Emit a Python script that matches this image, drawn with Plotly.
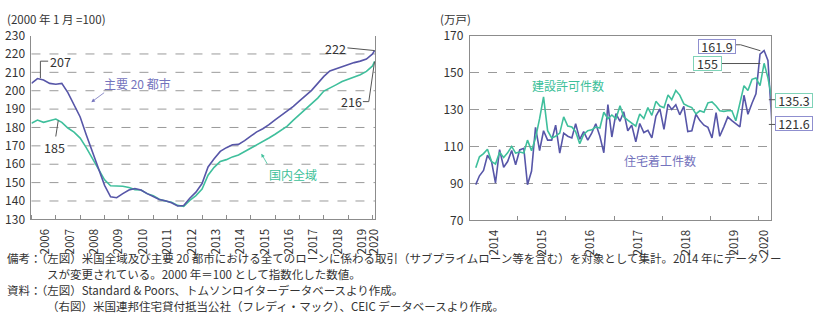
import pandas as pd
import plotly.graph_objects as go

# ---------------- data ----------------
# Case-Shiller style house price index (Jan 2000 = 100), quarterly readings + latest months
hpi_dates = list(pd.date_range("2006-01-01", "2019-10-01", freq="QS").strftime("%Y-%m-%d")) + [
    "2020-01-01", "2020-02-01"]
hpi_city20 = [
    204.0, 206.6, 205.8, 204.0,
    203.5, 204.0, 199.0, 192.0,
    185.7, 176.0, 166.5, 157.4,
    148.5, 142.3, 141.8, 144.0,
    146.0, 146.8, 146.0, 144.0,
    142.6, 140.8, 140.1, 139.0,
    137.3, 137.5, 141.5, 144.8,
    149.5, 158.5, 163.0, 167.0,
    169.0, 170.6, 170.8, 172.8,
    175.3, 177.6, 179.3, 181.5,
    184.2, 186.5, 188.7, 191.5,
    194.5, 197.6, 200.2, 204.0,
    207.8, 210.8, 212.0, 213.3,
    214.3, 215.3, 216.1, 217.2,
    220.0, 222.0,
]
hpi_national = [
    182.3, 184.0, 182.8, 183.5,
    184.6, 182.8, 179.7, 177.5,
    174.2, 169.0, 163.0, 157.5,
    151.5, 148.3, 148.3, 148.0,
    147.3, 146.2, 146.0, 144.0,
    142.8, 141.0, 140.0, 139.3,
    137.6, 137.0, 140.3, 142.9,
    146.5, 154.0, 158.3, 161.5,
    162.5, 164.0, 165.0, 166.8,
    168.5, 170.3, 172.3, 174.3,
    176.3, 178.3, 180.7, 184.0,
    187.0, 190.0, 192.6, 196.0,
    199.8, 201.3, 203.2, 205.0,
    206.3, 207.4, 208.7, 210.5,
    213.5, 216.0,
]

# Monthly housing starts / building permits (10k units, SAAR), Jan 2014 - Mar 2020
month_dates = list(pd.date_range("2014-01-15", periods=75, freq="MS").strftime("%Y-%m-15"))
housing_starts = [
    89.3, 94.1, 97.0, 105.2, 101.8, 90.2, 108.3, 98.7, 101.8, 107.8, 100.1, 108.1,
    109.0, 89.3, 96.7, 120.3, 107.8, 118.5, 113.4, 113.4, 121.5, 106.4, 117.2, 115.5,
    114.6, 122.3, 113.8, 118.0, 113.4, 117.2, 122.3, 115.5, 106.6, 132.6, 115.1, 127.8,
    123.6, 128.8, 118.5, 121.5, 112.5, 122.4, 117.5, 118.7, 114.6, 126.4, 130.3, 119.2,
    132.9, 130.0, 132.6, 127.1, 131.7, 118.0, 118.5, 127.4, 124.0, 121.5, 120.3, 114.6,
    128.3, 115.5, 120.6, 126.0, 124.0, 122.3, 120.6, 137.7, 127.4, 133.4, 138.5, 159.9,
    161.9, 156.5, 121.6,
]
building_permits = [
    98.4, 104.4, 106.1, 108.5, 101.8, 100.5, 106.9, 104.0, 106.5, 110.0, 106.4, 107.0,
    106.4, 113.4, 107.7, 114.5, 125.0, 136.8, 118.5, 114.6, 115.5, 117.2, 126.0, 121.0,
    120.5, 118.0, 111.5, 116.5, 118.5, 119.0, 120.5, 120.0, 128.5, 125.0, 127.0, 125.0,
    132.0, 126.0, 124.2, 122.5, 121.0, 127.6, 125.1, 131.0, 126.8, 134.4, 131.9, 131.0,
    137.8, 135.3, 140.3, 137.8, 133.0, 131.9, 131.0, 127.6, 129.3, 128.5, 133.6, 134.1,
    131.9, 129.3, 129.0, 129.3, 129.3, 123.9, 132.7, 142.9, 140.3, 146.3, 147.1, 142.9,
    155.0, 147.1, 135.3,
]

left_years = list(range(2006, 2021))
left_label_pos = [f"{y}-08-01" for y in range(2006, 2020)] + ["2020-02-01"]
right_years = list(range(2014, 2021))
right_label_pos = [f"{y}-07-02" for y in range(2014, 2020)] + ["2020-02-18"]
left_yticks = list(range(130, 231, 10))
right_yticks = list(range(70, 171, 20))

# ---------------- styling ----------------
W, H = 821, 323
FONT = "Noto Sans CJK JP"
PURPLE = "#5756a8"
GREEN = "#3fbf9c"
PURPLE_TXT = "#7473bd"
GREEN_TXT = "#3cbf99"
AXIS = "#8c8c8c"
GRID = "#9a9a9a"
TXT = "#333333"


def px(x):
    return x / W


def py(y):
    return 1 - y / H


fig = go.Figure()
fig.add_trace(go.Scatter(x=hpi_dates, y=hpi_national, mode="lines",
                         line=dict(color=GREEN, width=1.6), xaxis="x", yaxis="y",
                         hoverinfo="skip", name="国内全域"))
fig.add_trace(go.Scatter(x=hpi_dates, y=hpi_city20, mode="lines",
                         line=dict(color=PURPLE, width=1.6), xaxis="x", yaxis="y",
                         hoverinfo="skip", name="主要20都市"))
fig.add_trace(go.Scatter(x=month_dates, y=housing_starts, mode="lines",
                         line=dict(color=PURPLE, width=1.6), xaxis="x2", yaxis="y2",
                         hoverinfo="skip", name="住宅着工件数"))
fig.add_trace(go.Scatter(x=month_dates, y=building_permits, mode="lines",
                         line=dict(color=GREEN, width=1.6), xaxis="x2", yaxis="y2",
                         hoverinfo="skip", name="建設許可件数"))

tickfont = dict(family=FONT, size=12, color=TXT)
xtickfont = dict(family=FONT, size=11.5, color=TXT)

fig.update_layout(
    width=W, height=H,
    margin=dict(l=0, r=0, t=0, b=0),
    paper_bgcolor="white", plot_bgcolor="white",
    showlegend=False,
    font=dict(family=FONT, color=TXT),
    xaxis=dict(
        domain=[px(31.7), px(378)], anchor="y", type="date",
        range=["2006-01-01", "2020-02-10"],
        tickmode="array", tickvals=left_label_pos, ticktext=[str(y) for y in left_years],
        tickangle=-90, ticks="", tickfont=xtickfont, ticklabelstandoff=4,
        showline=True, linecolor=AXIS, linewidth=1, showgrid=False, zeroline=False,
        minor=dict(ticks="inside", ticklen=4, tickcolor=AXIS, dtick="M12",
                   tick0="2006-01-01", showgrid=False),
        fixedrange=True,
    ),
    yaxis=dict(
        domain=[py(221), py(27)], anchor="x", range=[130, 230],
        tickmode="array", tickvals=left_yticks, ticks="", tickfont=tickfont,
        ticklabelstandoff=3,
        showline=True, mirror=True, linecolor=AXIS, linewidth=1,
        showgrid=False, zeroline=False, fixedrange=True,
    ),
    xaxis2=dict(
        domain=[px(473.3), px(776.5)], anchor="y2", type="date",
        range=["2014-01-01", "2020-04-06"],
        tickmode="array", tickvals=right_label_pos, ticktext=[str(y) for y in right_years],
        tickangle=-90, ticks="", tickfont=xtickfont, ticklabelstandoff=4,
        showline=True, mirror=True, linecolor=AXIS, linewidth=1,
        showgrid=False, zeroline=False,
        minor=dict(ticks="inside", ticklen=4, tickcolor=AXIS, dtick="M12",
                   tick0="2014-01-01", showgrid=False),
        fixedrange=True,
    ),
    yaxis2=dict(
        domain=[py(222), py(27)], anchor="x2", range=[70, 170],
        tickmode="array", tickvals=right_yticks, ticks="", tickfont=tickfont,
        ticklabelstandoff=3,
        showline=True, mirror=True, linecolor=AXIS, linewidth=1,
        showgrid=True, gridcolor=GRID, griddash="dash", gridwidth=1,
        zeroline=False, fixedrange=True,
    ),
)

shapes = []
# dashed gridlines for the left panel (no line at the top value)
for v in left_yticks[1:-1]:
    shapes.append(dict(type="line", xref="x domain", yref="y", x0=0, x1=1, y0=v, y1=v,
                       line=dict(color=GRID, width=1, dash="dash"), layer="below"))


def pline(points, color="#555555", width=1):
    path = "M " + " L ".join(f"{px(x):.5f},{py(y):.5f}" for x, y in points)
    return dict(type="path", xref="paper", yref="paper", path=path,
                line=dict(color=color, width=width))


shapes += [
    pline([(40.7, 72), (40.7, 54), (48.5, 54)]),
    pline([(58.7, 116.5), (55.5, 138)]),
    pline([(350, 40), (377.3, 42.8)]),
    pline([(365.5, 96.7), (371.5, 96.7), (377.3, 54.5)]),
    pline([(740, 36.7), (746, 36.7), (766, 43)]),
    pline([(726.7, 56.5), (766, 56.5)]),
    pline([(774.5, 94.7), (781.7, 94.7)]),
    pline([(774.5, 120.8), (781.7, 120.8)]),
]
fig.update_layout(shapes=shapes)

ann = []


def text(x, y, s, color=TXT, size=12.5, xanchor="center", **kw):
    ann.append(dict(xref="paper", yref="paper", x=px(x), y=py(y), text=s, showarrow=False,
                    xanchor=xanchor, yanchor="middle",
                    font=dict(family=FONT, size=size, color=color), **kw))


def box(x, y, s, border, w):
    ann.append(dict(xref="paper", yref="paper", x=px(x), y=py(y), text=s, showarrow=False,
                    xanchor="center", yanchor="middle", width=w, height=13,
                    bgcolor="white", bordercolor=border, borderwidth=1, borderpad=0,
                    font=dict(family=FONT, size=12.5, color=TXT)))


def arrow(x_head, y_head, x_tail, y_tail, color):
    ann.append(dict(xref="paper", yref="paper", x=px(x_head), y=py(y_head), text="",
                    showarrow=True, ax=x_tail - x_head, ay=y_tail - y_head,
                    arrowhead=2, arrowsize=0.9, arrowwidth=0.8, arrowcolor=color))


text(5, 9.5, "(2000 年 1 月 =100)", xanchor="left", size=11.5)
text(441.5, 9.5, "(万戸)", xanchor="left", size=11.5)
text(60.5, 54, "207")
text(55, 145, "185", bgcolor="white")
text(338, 40.5, "222")
text(354.5, 96.7, "216")
text(138.5, 77.5, "主要 20 都市", color=PURPLE_TXT, size=12)
arrow(92, 97.3, 106.3, 86.7, PURPLE_TXT)
text(295, 173.3, "国内全域", color=GREEN_TXT, size=12)
arrow(263.3, 151.7, 270, 163.3, GREEN_TXT)
text(572, 80, "建設許可件数", color=GREEN_TXT, size=12)
text(665, 159.3, "住宅着工件数", color=PURPLE_TXT, size=12)
box(722, 38, "161.9", "#8f8fcf", 36)
box(713, 56.7, "155", "#7fd3b8", 27)
box(800, 95.3, "135.3", "#7fd3b8", 36)
box(800, 120, "121.6", "#8f8fcf", 36)

notes = [
    (5, 262, "備考：（左図）米国全域及び主要 20 都市における全てのローンに係わる取引（サブプライムローン等を含む）を対象として集計。2014 年にデータソー"),
    (45, 279, "スが変更されている。2000 年＝100 として指数化した数値。"),
    (5, 296, "資料：（左図）Standard & Poors、トムソンロイターデータベースより作成。"),
    (45, 312, "（右図）米国連邦住宅貸付抵当公社（フレディ・マック）、CEIC データベースより作成。"),
]
for x, y, s in notes:
    text(x, y, s, xanchor="left", size=11.5)

fig.update_layout(annotations=ann)
fig.write_html("out.html")
